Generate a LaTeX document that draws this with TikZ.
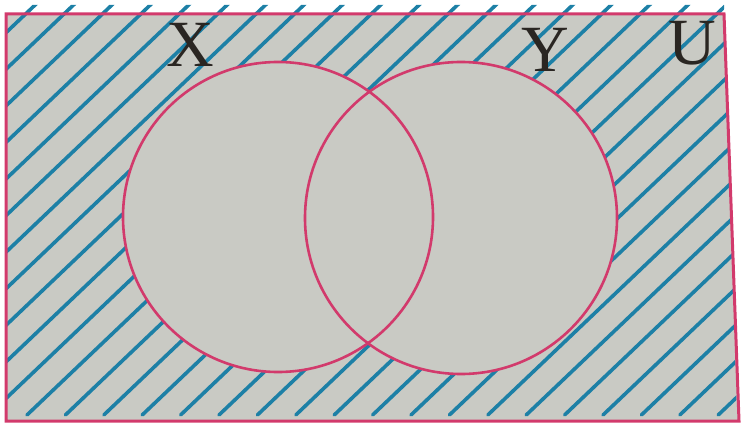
\documentclass[tikz,border=0pt]{standalone}
\usepackage{fontspec}
\setmainfont{Liberation Serif}
\usepackage{tikz}
\definecolor{paper}{HTML}{C9CAC4}
\definecolor{edge}{HTML}{D23A6C}
\definecolor{hatch}{HTML}{1D80A6}
\definecolor{ink}{HTML}{2A2622}

\begin{document}
\begin{tikzpicture}[
  x=1pt, y=-1pt,
  border/.style={draw=edge, line width=3pt},
  ring/.style={draw=edge, line width=2.6pt},
  hatchline/.style={draw=hatch, line width=3.6pt, line cap=round},
  setname/.style={anchor=base, text=ink, font=\fontsize{66}{66}\selectfont}
]
\useasboundingbox (0,0) rectangle (741,425);
% universal set
\fill[paper] (6,14) -- (724,14) -- (739,421) -- (6,421) -- cycle;
% hatching outside X and Y
\begin{scope}
  \clip (6,5) -- (724,5) -- (737,416) -- (6,416) -- cycle;
  \foreach \k in {-12,...,19}
    \draw[hatchline] (27+38.4*\k,415) -- (463+38.4*\k,-0.3);
\end{scope}
\draw[border] (6,14) -- (724,14) -- (739,421) -- (6,421) -- cycle;
% the two sets
\fill[paper] (278,217) circle (155) (461,218) circle (156);
\draw[ring] (278,217) circle (155);
\draw[ring] (461,218) circle (156);
% labels
\node[setname] (lblX) at (190,67) {X};
\node[setname] (lblY) at (545,72) {Y};
\node[setname] (lblU) at (692,65) {U};
\end{tikzpicture}
\end{document}
